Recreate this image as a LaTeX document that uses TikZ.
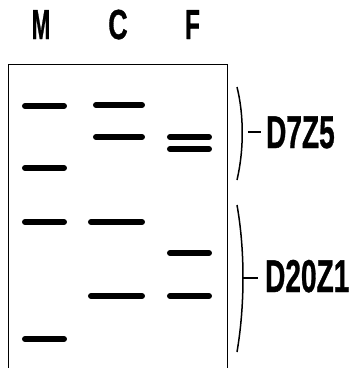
\documentclass[tikz,border=0pt]{standalone}
\usepackage{fontspec}
\setmainfont{Liberation Sans}
\newfontfamily\heavyfont[FakeBold=1]{Liberation Sans Bold}
\begin{document}
\begin{tikzpicture}[x=1pt,y=-1pt,
  band/.style={line width=6pt,line cap=round},
  gel/.style={line width=0.9pt},
  paren/.style={line width=1.5pt},
  tick/.style={line width=1.3pt},
  lanelbl/.style={inner sep=0pt,anchor=base,font=\heavyfont\fontsize{42}{42}\selectfont},
  seglbl/.style={inner sep=0pt,anchor=base west,font=\heavyfont\fontsize{46}{46}\selectfont,xscale=0.61}]
\useasboundingbox (0,0) rectangle (350,368);
% lane labels
\node[lanelbl,xscale=0.53] (M) at (41,39) {M};
\node[lanelbl,xscale=0.64] (C) at (118,39) {C};
\node[lanelbl,xscale=0.58] (F) at (192.5,39) {F};
% gel outline
\draw[gel] (8,368) -- (8,64) -- (227,64) -- (227,368);
% M lane
\draw[band] (25,106) -- (64,106);
\draw[band] (25,168) -- (64,168);
\draw[band] (25,222) -- (64,222);
\draw[band] (25,339) -- (64,339);
% C lane
\draw[band] (96,105) -- (142,105);
\draw[band] (96,137) -- (142,137);
\draw[band] (91,222) -- (142,222);
\draw[band] (91,296) -- (142,296);
% F lane
\draw[band] (170,137) -- (209,137);
\draw[band] (170,149) -- (209,149);
\draw[band] (170,253) -- (209,253);
\draw[band] (170,296) -- (209,296);
% brackets
\draw[paren] (237,87) .. controls (244,115) and (244,150) .. (237,180);
\draw[paren] (237,205) .. controls (245,250) and (245,305) .. (237,352);
\coordinate (p1) at (248,132);
\coordinate (p2) at (243,278);
% labels
\node[seglbl] (D7) at (266,148) {D7Z5};
\node[seglbl] (D20) at (265,292) {D20Z1};
\draw[tick] (p1) -- (261,132);
\draw[tick] (p2) -- (258,278);
\end{tikzpicture}
\end{document}
